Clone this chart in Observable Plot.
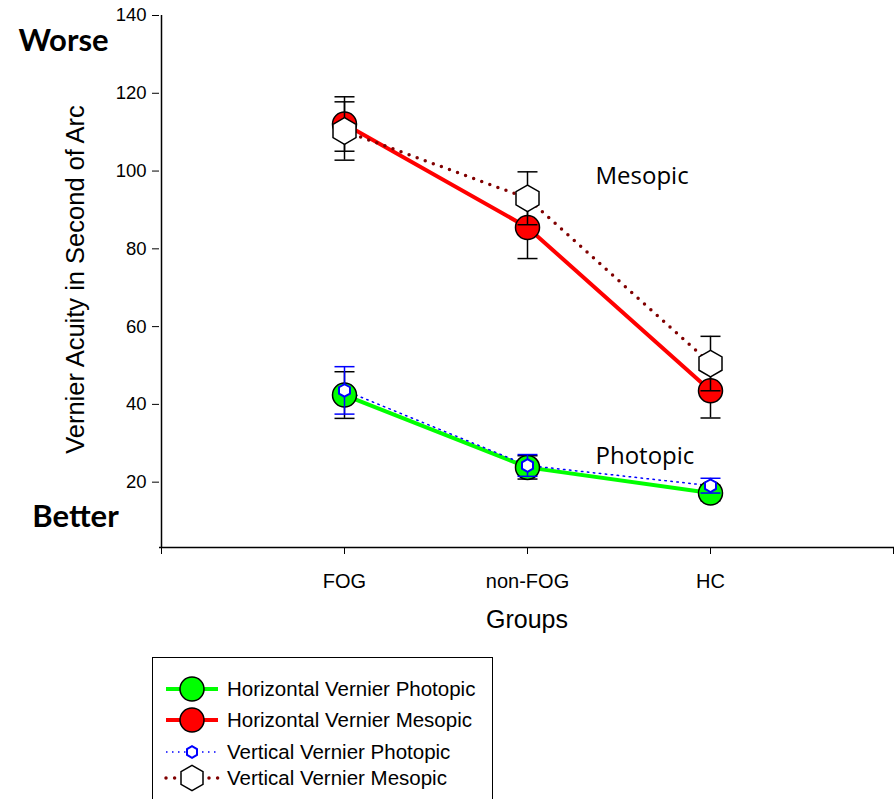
<!DOCTYPE html>
<html><head><meta charset="utf-8">
<script src="https://cdn.jsdelivr.net/npm/d3@7"></script>
<script src="https://cdn.jsdelivr.net/npm/@observablehq/plot@0.6"></script>
<style>
body{margin:0;background:#fff;overflow:hidden;}
#wrap{position:relative;width:894px;height:799px;}
#legend{position:absolute;left:152px;top:657px;width:341px;height:160px;border:1px solid #000;box-sizing:border-box;}
</style></head><body><div id="wrap"><div id="chart"></div><div id="legend"></div></div>
<script>
// ---- data ----
const groups = ["FOG", "non-FOG", "HC"];
const hPhot = [42.4, 23.8, 17.2];
const hPhotErr = [6.0, 3.0, 2.0];
const hMes = [112.1, 85.5, 43.5];
const hMesErr = [7.0, 8.0, 7.0];
const vPhot = [43.6, 24.3, 19.1];
const vPhotErr = [6.1, 2.8, 1.9];
const vMes = [110.3, 93.0, 50.5];
const vMesErr = [7.5, 6.8, 7.0];
const yTicks = [20, 40, 60, 80, 100, 120, 140];
const yDomain = [3.2, 140];
const seriesNames = ["Horizontal Vernier Photopic", "Horizontal Vernier Mesopic", "Vertical Vernier Photopic", "Vertical Vernier Mesopic"];
const annotations = [
  {label: "Mesopic", group: "non-FOG", value: 98.6},
  {label: "Photopic", group: "non-FOG", value: 26.6}
];

const rows = (vals, errs) => groups.map((g, i) => ({group: g, value: vals[i], lo: vals[i] - errs[i], hi: vals[i] + errs[i]}));
const HP = rows(hPhot, hPhotErr), HM = rows(hMes, hMesErr), VP = rows(vPhot, vPhotErr), VM = rows(vMes, vMesErr);

const capSymbol = {draw(ctx, size) { const r = Math.sqrt(size / Math.PI); ctx.moveTo(-r, 0); ctx.lineTo(r, 0); }};
const errorBars = (data, color) => [
  Plot.ruleX(data, {x: "group", y1: "lo", y2: "hi", stroke: color, strokeWidth: 1.5}),
  Plot.dot(data, {x: "group", y: "lo", symbol: capSymbol, r: 10, stroke: color, fill: "none", strokeWidth: 1.5}),
  Plot.dot(data, {x: "group", y: "hi", symbol: capSymbol, r: 10, stroke: color, fill: "none", strokeWidth: 1.5})
];

const xDomain = ["", ...groups, " "];

const chart = Plot.plot({
  width: 894,
  height: 650,
  marginLeft: 159,
  marginRight: 0,
  marginTop: 15,
  marginBottom: 103,
  style: {fontFamily: "'Liberation Sans', Arial, sans-serif", background: "#fff", color: "#000", overflow: "visible"},
  x: {type: "point", domain: xDomain, padding: 0},
  y: {domain: yDomain},
  marks: [
    Plot.axisY({ticks: yTicks, tickSize: 7, tickPadding: 6, fontSize: 18.5, label: null}),
    Plot.axisX({ticks: xDomain, tickSize: 7, tickPadding: 19, fontSize: 20, label: null, tickFormat: d => d.trim()}),
    Plot.ruleX([""], {stroke: "#000", strokeWidth: 1.5}),
    Plot.ruleY([yDomain[0]], {stroke: "#000", strokeWidth: 1.5}),
    Plot.text(["Vernier Acuity in Second of Arc"], {frameAnchor: "left", textAnchor: "middle", dx: -84, dy: -2, rotate: -90, fontSize: 25.5, fill: "#000"}),
    Plot.text(["Groups"], {frameAnchor: "bottom", textAnchor: "middle", dy: 80, fontSize: 25, fill: "#000"}),
    Plot.text(["Worse"], {frameAnchor: "top-left", textAnchor: "middle", dx: -96, dy: 13, fontSize: 31, fontWeight: "bold", fontFamily: "Lato", fill: "#000"}),
    Plot.text(["Better"], {frameAnchor: "bottom-left", textAnchor: "middle", dx: -84, dy: -21, fontSize: 31, fontWeight: "bold", fontFamily: "Lato", fill: "#000"}),
    Plot.text(annotations, {x: "group", y: "value", text: "label", dx: 68, textAnchor: "start", fontSize: 24, fontFamily: "'Open Sans'", fill: "#000"}),
    // lines
    Plot.line(HP, {x: "group", y: "value", stroke: "#00ff00", strokeWidth: 4}),
    Plot.line(HM, {x: "group", y: "value", stroke: "#ff0000", strokeWidth: 4}),
    Plot.line(VP, {x: "group", y: "value", stroke: "#0000ff", strokeWidth: 1.5, strokeDasharray: "1.5 4.5"}),
    Plot.line(VM, {x: "group", y: "value", stroke: "#800000", strokeWidth: 3.5, strokeDasharray: "0 8.6", strokeLinecap: "round"}),
    // photopic markers
    ...errorBars(HP, "#000"),
    Plot.dot(HP, {x: "group", y: "value", r: 12, fill: "#00ff00", stroke: "#000", strokeWidth: 1.5}),
    ...errorBars(VP, "#0000ff"),
    Plot.dot(VP, {x: "group", y: "value", r: 5.5, symbol: "hexagon", fill: "#fff", stroke: "#0000ff", strokeWidth: 2}),
    // mesopic markers
    ...errorBars(HM, "#000"),
    Plot.dot(HM, {x: "group", y: "value", r: 12, fill: "#ff0000", stroke: "#000", strokeWidth: 1.5}),
    ...errorBars(VM, "#000"),
    Plot.dot(VM, {x: "group", y: "value", r: 11.5, symbol: "hexagon", fill: "#fff", stroke: "#000", strokeWidth: 1.5})
  ]
});
document.getElementById("chart").appendChild(chart);

// ---- legend ----
const legendStyles = [
  {stroke: "#00ff00", width: 4, dash: null, cap: "butt", marker: "circle", fill: "#00ff00", mstroke: "#000", r: 12, cy: 31},
  {stroke: "#ff0000", width: 4, dash: null, cap: "butt", marker: "circle", fill: "#ff0000", mstroke: "#000", r: 12, cy: 62},
  {stroke: "#0000ff", width: 1.5, dash: "1.5 4.5", cap: "butt", marker: "hex", fill: "#fff", mstroke: "#0000ff", r: 5, cy: 94},
  {stroke: "#800000", width: 3.5, dash: "0 8.6", cap: "round", marker: "hex", fill: "#fff", mstroke: "#000", r: 11, cy: 120}
];
const lsvg = d3.select("#legend").append("svg").attr("width", 339).attr("height", 158)
  .style("font-family", "'Liberation Sans', Arial, sans-serif");
const hexPath = r => { const ry = r * 2 / Math.sqrt(3), hy = ry / 2; return `M0,${ry}L${r},${hy}L${r},${-hy}L0,${-ry}L${-r},${-hy}L${-r},${hy}Z`; };
seriesNames.forEach((name, i) => {
  const s = legendStyles[i];
  const g = lsvg.append("g").attr("transform", `translate(0,${s.cy})`);
  g.append("line").attr("x1", 13).attr("x2", 65).attr("y1", 0).attr("y2", 0)
    .attr("stroke", s.stroke).attr("stroke-width", s.width).attr("stroke-dasharray", s.dash).attr("stroke-linecap", s.cap);
  if (s.marker === "circle") {
    g.append("circle").attr("cx", 39).attr("r", s.r).attr("fill", s.fill).attr("stroke", s.mstroke).attr("stroke-width", 1.5);
  } else {
    g.append("path").attr("transform", "translate(39,0)").attr("d", hexPath(s.r)).attr("fill", s.fill).attr("stroke", s.mstroke).attr("stroke-width", s.r < 8 ? 2 : 1.5);
  }
  g.append("text").attr("x", 74).attr("y", 0).attr("dy", "0.35em").attr("font-size", 20.5).text(name);
});
</script></body></html>
